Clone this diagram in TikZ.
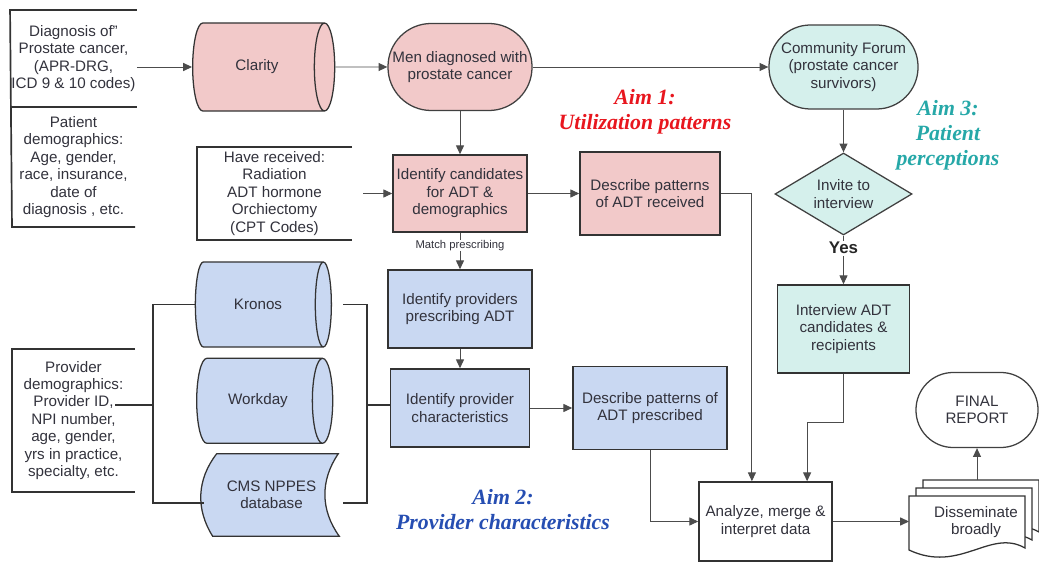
\documentclass[tikz,border=0pt]{standalone}
\usepackage{fontspec}
\setmainfont{Liberation Sans}
\newfontfamily\aimfont{Liberation Serif}
\usetikzlibrary{arrows.meta,positioning,shapes.geometric,backgrounds,calc}
\definecolor{pinkfill}{RGB}{242,201,201}
\definecolor{bluefill}{RGB}{201,216,242}
\definecolor{tealfill}{RGB}{213,240,236}
\definecolor{aimred}{RGB}{232,22,30}
\definecolor{aimblue}{RGB}{38,78,178}
\definecolor{aimteal}{RGB}{38,168,168}
\definecolor{boxtext}{RGB}{50,50,60}

\begin{document}
\begin{tikzpicture}[x=0.025cm, y=-0.025cm, >={Triangle[length=0.22cm,width=0.2cm]},
  every node/.style={font=\fontsize{10.8}{12.4}\selectfont, text=boxtext, align=center, inner sep=1pt},
  box/.style={rectangle, draw=black!80, line width=1.1pt},
  db/.style={cylinder, shape aspect=1.2, draw=black!80, line width=0.9pt, cylinder uses custom fill, cylinder body fill=#1, cylinder end fill=#1},
  pill/.style={rectangle, rounded corners=#1, draw=black!75, line width=0.9pt},
  note/.style={outer sep=0pt},
  bracket/.style={draw=black!80, line width=1.2pt},
  link/.style={draw=black!70, line width=0.7pt},
  docshape/.style={draw=black!80, line width=0.9pt, fill=white},
  aim/.style={font=\aimfont\bfseries\itshape\fontsize{15.5}{17.8}\selectfont}]
  \useasboundingbox (0,0) rectangle (1039,563);

  \node[note, minimum width=3.075cm, minimum height=2.425cm] (diag) at (73.5,58.5) {Diagnosis of"\\Prostate cancer,\\(APR-DRG,\\ICD 9 \& 10 codes)};
  \node[note, minimum width=3.075cm, minimum height=3cm, below=0cm of diag] (pat) {Patient\\demographics:\\Age, gender,\\race, insurance,\\date of\\diagnosis , etc.};
  \node[note, minimum width=3.875cm, minimum height=2.325cm] (recv) at (274.5,193.5) {Have received:\\Radiation\\ADT hormone\\Orchiectomy\\(CPT Codes)};
  \node[note, minimum width=3.075cm, minimum height=3.575cm] (prov) at (73.5,420.5) {Provider\\demographics:\\Provider ID,\\NPI number,\\age, gender,\\yrs in practice,\\specialty, etc.};
  \draw[bracket] (diag.north east) -- (diag.north west) -- (pat.south west) -- (pat.south east);
  \draw[bracket] (diag.south west) -- (diag.south east);
  \draw[bracket] (recv.north east) -- (recv.north west) -- (recv.south west) -- (recv.south east);
  \draw[bracket] (prov.north east) -- (prov.north west) -- (prov.south west) -- (prov.south east);

  \node[db=pinkfill, minimum height=3.55cm, minimum width=2.2cm] (clarity) at (257,67) {Clarity};
  \node[pill=1.08cm, fill=pinkfill, minimum width=3.6cm, minimum height=2.175cm] (men) at (460,67) {Men diagnosed with\\prostate cancer};
  \node[pill=1.04cm, fill=tealfill, minimum width=3.725cm, minimum height=2.1cm] (forum) at (843.5,67) {Community Forum\\(prostate cancer\\survivors)};
  \node[diamond, aspect=1.67, draw=black!75, line width=0.9pt, fill=tealfill, minimum width=3.425cm, minimum height=2.05cm, inner sep=0pt] (invite) at (843.5,194) {Invite to\\interview};
  \node[box, fill=tealfill, minimum width=3.3cm, minimum height=2.2cm] (intv) at (843.5,329) {Interview ADT\\candidates \&\\recipients};

  \node[box, fill=pinkfill, minimum width=3.35cm, minimum height=1.925cm] (cand) at (460,193.5) {Identify candidates\\for ADT \&\\demographics};
  \node[box, fill=pinkfill, minimum width=3.5cm, minimum height=2.075cm] (recvd) at (650,193.5) {Describe patterns\\of ADT received};
  \node[box, fill=bluefill, minimum width=3.6cm, minimum height=1.95cm] (presc) at (460,309) {Identify providers\\prescribing ADT};
  \node[box, fill=bluefill, minimum width=3.475cm, minimum height=1.95cm] (pchar) at (460,408) {Identify provider\\characteristics};
  \node[box, fill=bluefill, minimum width=3.85cm, minimum height=2.075cm] (prescr) at (650,408) {Describe patterns of\\ADT prescribed};
  \node[box, fill=white, minimum width=3.325cm, minimum height=1.975cm] (analyze) at (765.5,521.5) {Analyze, merge \&\\interpret data};
  \node[pill=0.93cm, fill=white, minimum width=3.05cm, minimum height=1.875cm] (final) at (977,410) {FINAL\\REPORT};

  \node[db=bluefill, minimum height=3.4cm, minimum width=2.125cm] (kronos) at (258,304.5) {Kronos};
  \node[db=bluefill, minimum height=3.4cm, minimum width=2.125cm, below=0.25cm of kronos] (workday) {Workday};
  \node[minimum width=3.075cm, minimum height=2.05cm] (cms) at (271.5,495) {CMS NPPES\\database};
  \begin{scope}[on background layer]
    \draw[draw=black!80, line width=0.9pt, fill=bluefill] ($(cms.north west)+(7,0)$) to[bend right=35] ($(cms.south west)+(3,0)$) -- ($(cms.south east)+(6,0)$) to[bend left=35] ($(cms.north east)+(5,0)$) -- cycle;
  \end{scope}

  \foreach \k in {2,1,0}
    \draw[docshape, shift={(7*\k,-8*\k)}] (909,496) -- (1025,496) -- (1025,548) .. controls (990,528) and (960,574) .. (909,550) -- cycle;
  \node (dissem) at (976,522) {Disseminate\\broadly};
  \coordinate (docw) at (909,521.5);
  \coordinate (doctop) at (977,480);

  \node[aim, text=aimred] (aim1) at (645,112) {Aim 1:\\Utilization patterns};
  \node[aim, text=aimblue] (aim2) at (503,510) {Aim 2:\\Provider characteristics};
  \node[aim, text=aimteal] (aim3) at (948,135) {Aim 3:\\Patient\\perceptions};

  \coordinate (pvend) at (115,405);
  \coordinate (lbrk) at (153,405);
  \coordinate (rbrk) at (367,405);
  \draw[bracket] (pvend) -- (lbrk);
  \draw[bracket] (kronos.west) -| (lbrk) |- ($(cms.west)+(-6,8)$);
  \draw[bracket] ($(kronos.east)+(11,0)$) -| (rbrk) |- ($(cms.east)+(10,8)$);
  \draw[bracket] (rbrk) -- (rbrk -| pchar.west);

  \draw[link,->] (diag.east |- clarity) -- (clarity);
  \draw[link,->] (clarity) -- (men);
  \draw[link,->] (men) -- (forum);
  \draw[link,->] (forum) -- (invite);
  \draw[link,->] (invite) -- node[pos=0.26, fill=white, text=black!85, font=\bfseries\fontsize{12}{14}\selectfont] (yes) {Yes} (intv);
  \draw[link,->] (men) -- (cand);
  \draw[link,->, shorten <=0.28cm] (recv) -- (cand);
  \draw[link,->] (cand) -- (recvd);
  \draw[link,->] (cand) -- node[pos=0.35, fill=white, inner sep=0.5pt, font=\fontsize{8}{9}\selectfont] (match) {Match prescribing} (presc);
  \draw[link,->] (presc) -- (pchar);
  \draw[link,->] (pchar) -- (prescr);
  \draw[link,->] (recvd.east) -| ([xshift=-0.34cm]analyze.north);
  \draw[link,->] (prescr.south) |- (analyze.west);
  \draw[link,->] (intv.south) -- ++(0,49) -| ([xshift=1.04cm]analyze.north);
  \draw[link,->] (analyze.east) -- (docw);
  \draw[link,->] (doctop) -- (final);
\end{tikzpicture}
\end{document}
